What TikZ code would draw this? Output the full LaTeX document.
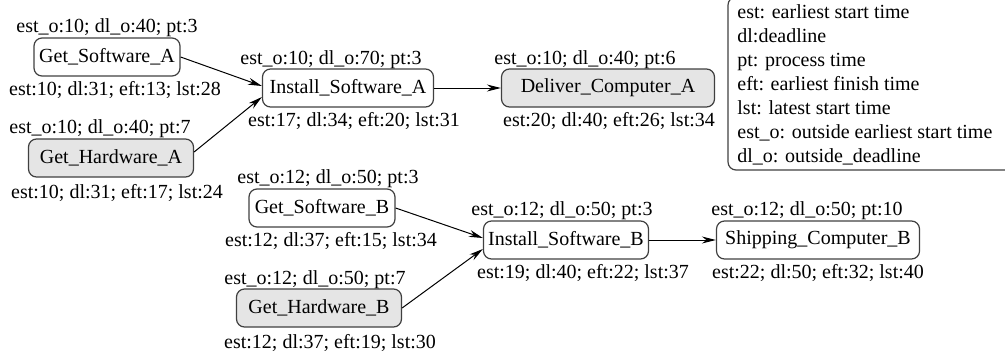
\documentclass[tikz,border=0pt]{standalone}
\usepackage{fontspec}
\setmainfont{Liberation Serif}
\usetikzlibrary{arrows.meta}
\definecolor{taskgray}{gray}{0.9}
\definecolor{edgegray}{gray}{0.25}
\tikzset{
  schedpic/.style={
    x=0.5pt,y=-0.5pt
    ,font=\fontsize{10}{12}\selectfont
  }
  ,taskbox/.style={draw=edgegray,line width=.6pt,rounded corners=4pt
    ,minimum height=19pt,inner sep=0pt}
  ,hwbox/.style={taskbox,fill=taskgray}
  ,lbl/.style={anchor=base,inner sep=0pt}
  ,flow/.style={-{Stealth[length=7pt,width=3.5pt]},line width=.5pt}
  ,legendtext/.style={anchor=north west,align=left,inner sep=0pt}
  ,legendbox/.style={draw=edgegray,line width=.6pt,rounded corners=4pt}
}

\begin{document}
\begin{tikzpicture}[schedpic]
  \useasboundingbox (0,0) rectangle (1005,359);
  \clip (0,0) rectangle (1005,359);
  % computer A
  \node[taskbox,minimum width=73pt] (gswa) at (107,57) {Get\_Software\_A};
  \node[lbl] (gswatop) at (107,32) {est\_o:10; dl\_o:40; pt:3};
  \node[lbl] (gswabot) at (115,95) {est:10; dl:31; eft:13; lst:28};
  \node[hwbox,minimum width=82.5pt] (ghwa) at (111,158) {Get\_Hardware\_A};
  \node[lbl] (ghwatop) at (100,133) {est\_o:10; dl\_o:40; pt:7};
  \node[lbl] (ghwabot) at (117,198) {est:10; dl:31; eft:17; lst:24};
  \node[taskbox,minimum width=85.5pt] (iswa) at (348,88) {Install\_Software\_A};
  \node[lbl] (iswatop) at (331,64) {est\_o:10; dl\_o:70; pt:3};
  \node[lbl] (iswabot) at (354,126.5) {est:17; dl:34; eft:20; lst:31};
  \node[hwbox,minimum width=106.5pt] (dcoa) at (608,88) {Deliver\_Computer\_A};
  \node[lbl] (dcoatop) at (585,64) {est\_o:10; dl\_o:40; pt:6};
  \node[lbl] (dcoabot) at (609,126.5) {est:20; dl:40; eft:26; lst:34};
  % computer B
  \node[taskbox,minimum width=73pt] (gswb) at (322,208) {Get\_Software\_B};
  \node[lbl] (gswbtop) at (328,183.5) {est\_o:12; dl\_o:50; pt:3};
  \node[lbl] (gswbbot) at (331,246.5) {est:12; dl:37; eft:15; lst:34};
  \node[hwbox,minimum width=82.5pt] (ghwb) at (319,308) {Get\_Hardware\_B};
  \node[lbl] (ghwbtop) at (315,284.5) {est\_o:12; dl\_o:50; pt:7};
  \node[lbl] (ghwbbot) at (330,348) {est:12; dl:37; eft:19; lst:30};
  \node[taskbox,minimum width=82.5pt] (iswb) at (566,240) {Install\_Software\_B};
  \node[lbl] (iswbtop) at (562,215) {est\_o:12; dl\_o:50; pt:3};
  \node[lbl] (iswbbot) at (583,278) {est:19; dl:40; eft:22; lst:37};
  \node[taskbox,minimum width=101.5pt] (scob) at (818,240) {Shipping\_Computer\_B};
  \node[lbl] (scobtop) at (807,215) {est\_o:12; dl\_o:50; pt:10};
  \node[lbl] (scobbot) at (818,278) {est:22; dl:50; eft:32; lst:40};
  % flows
  \draw[flow] (gswa.east) -- ([yshift=1pt]iswa.west);
  \draw[flow] ([yshift=3pt]ghwa.east) -- ([yshift=-4.5pt]iswa.west);
  \draw[flow] (iswa) -- (dcoa);
  \draw[flow] (gswb.east) -- ([yshift=1pt]iswb.west);
  \draw[flow] (ghwb.east) -- ([yshift=-4.5pt]iswb.west);
  \draw[flow] (iswb) -- (scob);
  % legend
  \node[legendtext] (legend) at (737,4) {est: earliest start time\\
    dl:deadline\\
    pt: process time\\
    eft: earliest finish time\\
    lst: latest start time\\
    est\_o: outside earliest start time\\
    dl\_o: outside\_deadline};
  \draw[legendbox] (728,-3) rectangle (1015,170);
\end{tikzpicture}
\end{document}
